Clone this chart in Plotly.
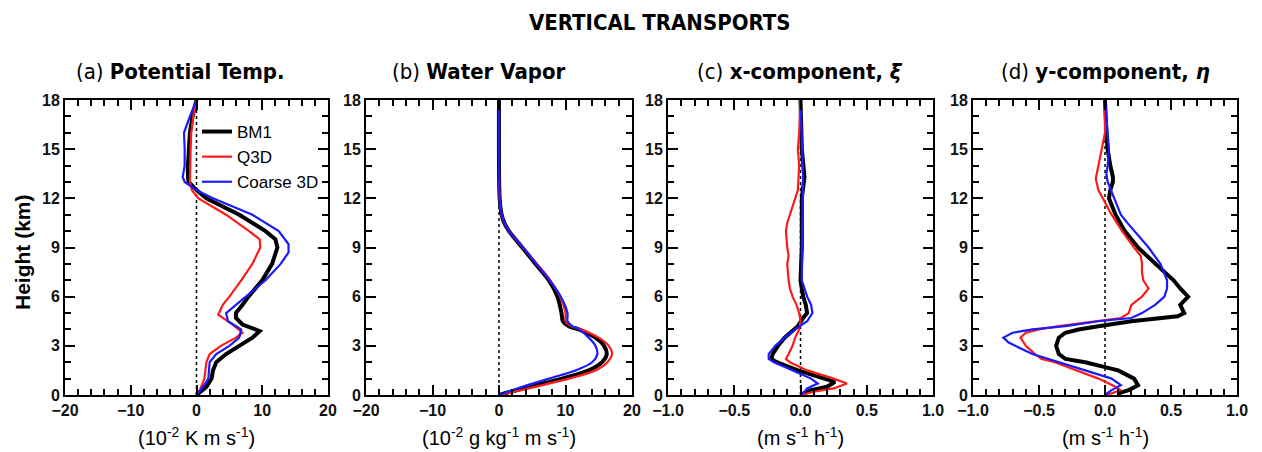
import plotly.graph_objects as go

# ---------------- data ----------------
series_names = ["BM1", "Q3D", "Coarse 3D"]
series_colors = ["#000000", "#ff1a1a", "#1a1aff"]

# (a) Potential temperature (10^-2 K m s^-1)
a_bm1_z = [0, 0.5, 1, 1.5, 2, 2.5, 3, 3.5, 3.9, 4.3, 4.7, 5, 5.5, 6, 7, 8, 9, 9.5, 10, 11, 12, 12.5, 13, 13.3, 14, 15, 16, 17, 18]
a_bm1_x = [0, 1.5, 2.3, 2.5, 3.0, 4.5, 6.5, 8.5, 9.6, 7.0, 6.0, 6.0, 7.0, 7.9, 10.0, 11.5, 12.3, 12.0, 10.5, 6.5, 1.5, 0, -1.2, -1.3, -1.3, -1.2, -1.0, -0.6, 0]
a_q3d_z = [0, 0.3, 1, 2, 2.5, 3, 3.5, 3.8, 4.3, 4.9, 5.5, 6, 7, 8, 9, 9.5, 10, 11, 12, 12.5, 13, 13.5, 15, 16, 17, 18]
a_q3d_x = [0, 0.5, 1.2, 1.5, 2.0, 3.7, 6.0, 7.0, 5.5, 3.3, 4.0, 5.0, 6.8, 8.5, 9.7, 9.6, 8.0, 4.5, 0.3, -0.7, -1.0, -1.0, -0.9, -0.8, -0.5, 0]
a_c3d_z = [0, 0.5, 1, 2, 2.5, 3, 3.5, 4, 4.5, 5, 5.5, 6, 7, 8, 8.7, 9.2, 10, 11, 12, 12.5, 13, 13.3, 14, 15, 16, 17, 18]
a_c3d_x = [0, 1.0, 1.8, 2.0, 3.0, 5.0, 6.5, 6.8, 4.8, 4.5, 6.0, 7.5, 10.5, 12.8, 14.0, 14.0, 12.5, 8.5, 2.5, 0, -1.8, -2.1, -1.8, -1.8, -1.9, -1.0, 0]

# (b) Water vapor (10^-2 g kg^-1 m s^-1)
b_bm1_z = [0, 0.5, 1, 1.5, 2, 2.5, 3, 3.5, 4, 4.2, 4.5, 5, 6, 7, 8, 9, 10, 10.5, 11, 12, 18]
b_bm1_x = [0, 4.5, 9.5, 13.5, 15.5, 16.2, 15.8, 14.5, 12.0, 10.5, 9.6, 9.4, 8.8, 7.5, 5.5, 3.5, 1.5, 0.8, 0.4, 0.1, 0]
b_q3d_z = [0, 0.5, 1, 1.5, 2, 2.5, 3, 3.5, 4, 4.2, 4.5, 5, 6, 7, 8, 9, 10, 10.5, 11, 12, 18]
b_q3d_x = [0, 5.5, 10.5, 14.5, 16.3, 17.0, 16.5, 15.0, 12.3, 10.8, 10.0, 10.0, 9.2, 7.7, 5.7, 3.6, 1.5, 0.8, 0.4, 0.1, 0]
b_c3d_z = [0, 0.5, 1, 1.5, 2, 2.5, 3, 3.5, 4, 4.2, 4.5, 5, 6, 7, 8, 9, 10, 10.5, 11, 12, 18]
b_c3d_x = [0, 3.5, 7.5, 11.5, 14.0, 14.8, 14.5, 13.5, 12.0, 11.0, 10.3, 10.3, 9.3, 7.6, 5.6, 3.6, 1.5, 0.8, 0.4, 0.1, 0]

# (c) x-component (m s^-1 h^-1)
c_bm1_z = [0, 0.3, 0.5, 0.8, 1, 1.2, 1.5, 2, 2.2, 2.5, 3, 3.5, 4.2, 4.7, 5, 5.5, 6, 7, 9, 12, 13.3, 15, 18]
c_bm1_x = [0, 0.08, 0.2, 0.26, 0.18, 0.10, -0.02, -0.18, -0.22, -0.21, -0.17, -0.12, -0.02, 0.02, 0.05, 0.04, 0.02, 0.0, 0.01, 0.01, 0.03, 0.01, 0]
c_q3d_z = [0, 0.2, 0.4, 0.7, 1, 1.5, 2, 2.2, 2.5, 3, 3.5, 4, 4.5, 5, 5.5, 6, 6.5, 7, 8, 8.5, 9, 10, 10.5, 11, 12, 12.5, 14, 15, 16, 18]
c_q3d_x = [0, 0.1, 0.25, 0.35, 0.25, 0.05, -0.08, -0.11, -0.09, -0.06, -0.04, -0.01, 0.0, -0.01, -0.03, -0.06, -0.08, -0.09, -0.1, -0.09, -0.1, -0.11, -0.1, -0.08, -0.04, -0.02, -0.01, -0.02, -0.01, 0]
c_c3d_z = [0, 0.2, 0.4, 0.7, 1, 1.5, 2, 2.2, 2.5, 3, 3.5, 4, 4.5, 5, 5.5, 6, 7, 9, 13.3, 18]
c_c3d_x = [0, 0.03, 0.05, 0.13, 0.08, -0.06, -0.2, -0.24, -0.24, -0.19, -0.12, -0.04, 0.05, 0.09, 0.08, 0.05, 0.01, 0.01, 0.02, 0]

# (d) y-component (m s^-1 h^-1)
d_bm1_z = [0, 0.1, 0.3, 0.6, 1, 1.5, 1.7, 2, 2.2, 2.5, 3, 3.5, 3.8, 4, 4.2, 4.5, 4.8, 5, 5.5, 6, 6.5, 7, 7.5, 8, 9, 10, 11, 12, 12.5, 13, 13.3, 14, 15, 16, 18]
d_bm1_x = [0.12, 0.1, 0.18, 0.25, 0.22, 0.1, 0.0, -0.15, -0.3, -0.35, -0.37, -0.35, -0.3, -0.2, -0.05, 0.2, 0.55, 0.6, 0.57, 0.63, 0.57, 0.52, 0.45, 0.38, 0.25, 0.15, 0.08, 0.03, 0.04, 0.06, 0.06, 0.04, 0.02, 0.01, 0]
d_q3d_z = [0, 0.1, 0.3, 0.5, 1, 1.5, 2, 2.2, 2.5, 3, 3.5, 3.8, 4, 4.2, 4.5, 4.7, 5, 5.5, 6, 6.5, 7, 7.5, 8, 8.5, 9, 10, 11, 12, 12.5, 13.2, 14, 15, 16, 18]
d_q3d_x = [0, 0.05, 0.12, 0.08, -0.05, -0.22, -0.38, -0.48, -0.53, -0.6, -0.64, -0.6, -0.5, -0.35, -0.05, 0.12, 0.18, 0.2, 0.28, 0.33, 0.29, 0.28, 0.28, 0.27, 0.22, 0.13, 0.05, -0.02, -0.05, -0.07, -0.05, -0.02, 0.0, 0]
d_c3d_z = [0, 0.3, 0.6, 1, 1.5, 2, 2.5, 3, 3.2, 3.5, 3.8, 4, 4.2, 4.5, 4.7, 5, 5.5, 6, 6.5, 7, 8, 9, 10, 10.5, 11, 12, 12.5, 13, 13.5, 14, 15, 18]
d_c3d_x = [0, 0.05, 0.12, 0.05, -0.15, -0.35, -0.55, -0.68, -0.73, -0.77, -0.7, -0.55, -0.3, -0.05, 0.2, 0.28, 0.38, 0.45, 0.47, 0.47, 0.42, 0.33, 0.22, 0.17, 0.12, 0.07, 0.05, 0.02, 0.01, 0.02, 0.03, 0]

panel_titles = ["(a) <b>Potential Temp.</b>", "(b) <b>Water Vapor</b>",
                "(c) <b>x-component, <i>ξ</i></b>", "(d) <b>y-component, <i>η</i></b>"]
x_titles = ["(10<sup>-2</sup> K m s<sup>-1</sup>)", "(10<sup>-2</sup> g kg<sup>-1</sup> m s<sup>-1</sup>)",
            "(m s<sup>-1</sup> h<sup>-1</sup>)", "(m s<sup>-1</sup> h<sup>-1</sup>)"]
main_title = "VERTICAL TRANSPORTS"
y_title = "Height (km)"
y_ticks = [0, 3, 6, 9, 12, 15, 18]
x_ticks_ab = [-20, -10, 0, 10, 20]
x_ticks_cd = [-1.0, -0.5, 0.0, 0.5, 1.0]

panels = [
    [(a_bm1_z, a_bm1_x), (a_q3d_z, a_q3d_x), (a_c3d_z, a_c3d_x)],
    [(b_bm1_z, b_bm1_x), (b_q3d_z, b_q3d_x), (b_c3d_z, b_c3d_x)],
    [(c_bm1_z, c_bm1_x), (c_q3d_z, c_q3d_x), (c_c3d_z, c_c3d_x)],
    [(d_bm1_z, d_bm1_x), (d_q3d_z, d_q3d_x), (d_c3d_z, d_c3d_x)],
]

# ---------------- layout geometry ----------------
OFF = 8  # page body margin
W, H = 1262 - OFF, 452 - OFF


def fx(px):
    return (px - OFF) / W


def fy(py):
    return 1 - (py - OFF) / H


px_x = [(65, 328), (366, 632), (668, 933), (973, 1237)]
px_top, px_bot = 100, 395
ydom = [fy(px_bot), fy(px_top)]

FONT = "Liberation Sans"
COND = "DejaVu Sans Condensed, Liberation Sans"
fig = go.Figure()

line_widths = [4, 2.2, 2.2]
for p, series in enumerate(panels):
    xa = "x" if p == 0 else f"x{p+1}"
    ya = "y" if p == 0 else f"y{p+1}"
    for s in [0, 1, 2]:
        z, v = series[s]
        fig.add_trace(go.Scatter(
            x=v, y=z, mode="lines", xaxis=xa, yaxis=ya,
            name=series_names[s], showlegend=(p == 0),
            line=dict(color=series_colors[s], width=line_widths[s],
                      shape="spline" if p == 1 else "linear", smoothing=0.8),
        ))

layout = dict(width=W, height=H, margin=dict(l=0, r=0, t=0, b=0, pad=0, autoexpand=False),
              plot_bgcolor="white", paper_bgcolor="white",
              font=dict(family=FONT, color="black"))


def fmt(t, dec):
    s = ("%.1f" % abs(t)) if dec else str(abs(int(t)))
    return "<b>" + ("−" + s if t < 0 else s) + "</b>"


for p in range(4):
    xk = "xaxis" if p == 0 else f"xaxis{p+1}"
    yk = "yaxis" if p == 0 else f"yaxis{p+1}"
    x0, x1 = px_x[p]
    if p < 2:
        rng, tv, mdt = [-20, 20], x_ticks_ab, 2
        tt = [fmt(t, False) for t in tv]
    else:
        rng, tv, mdt = [-1.0, 1.0], x_ticks_cd, 0.1
        tt = [fmt(t, True) for t in tv]
    layout[xk] = dict(domain=[fx(x0), fx(x1)], range=rng, anchor="y" if p == 0 else f"y{p+1}",
                      tickmode="array", tickvals=tv, ticktext=tt, automargin=False,
                      ticks="inside", ticklen=10, tickwidth=1.5, tickcolor="black",
                      showline=True, linewidth=2, linecolor="black", mirror="ticks",
                      showgrid=False, zeroline=False,
                      tickfont=dict(size=16, family=FONT, color="#111"),
                      minor=dict(ticks="inside", ticklen=6, tickwidth=1.5, tickcolor="black", dtick=mdt, showgrid=False),
                      fixedrange=True)
    layout[yk] = dict(domain=ydom, range=[0, 18], anchor="x" if p == 0 else f"x{p+1}",
                      tickmode="array", tickvals=y_ticks, ticktext=["<b>%d</b>" % t for t in y_ticks],
                      automargin=False,
                      ticks="inside", ticklen=10, tickwidth=1.5, tickcolor="black",
                      showline=True, linewidth=2, linecolor="black", mirror="ticks",
                      showgrid=False, zeroline=False,
                      tickfont=dict(size=16, family=FONT, color="#111"),
                      minor=dict(ticks="inside", ticklen=6, tickwidth=1.5, tickcolor="black", dtick=1, showgrid=False),
                      fixedrange=True)

layout["legend"] = dict(x=fx(197), y=fy(114), xanchor="left", yanchor="top",
                        bgcolor="rgba(0,0,0,0)", font=dict(size=17, family=FONT),
                        tracegroupgap=0, itemwidth=30)
layout["showlegend"] = True

shapes = []
for p in range(4):
    xa = "x" if p == 0 else f"x{p+1}"
    ya = "y" if p == 0 else f"y{p+1}"
    shapes.append(dict(type="line", xref=xa, yref=ya, x0=0, x1=0, y0=0, y1=18,
                       line=dict(color="black", width=1.5, dash="dot"), layer="below"))
layout["shapes"] = shapes

ann = [dict(text="<b>" + main_title + "</b>", x=fx(660), y=fy(22), xref="paper", yref="paper",
            showarrow=False, font=dict(size=22, family=COND), xanchor="center", yanchor="middle")]
title_cx = [180, 478, 800, 1105]
for p in range(4):
    ann.append(dict(text=panel_titles[p], x=fx(title_cx[p]), y=fy(72), xref="paper", yref="paper",
                    showarrow=False, font=dict(size=22, family=COND),
                    xanchor="center", yanchor="middle"))
    cx = (px_x[p][0] + px_x[p][1]) / 2
    ann.append(dict(text=x_titles[p], x=fx(cx), y=fy(436), xref="paper", yref="paper",
                    showarrow=False, font=dict(size=20, family=FONT), xanchor="center", yanchor="middle"))
ann.append(dict(text="<b>" + y_title + "</b>", x=fx(22), y=fy(252), xref="paper", yref="paper", textangle=-90,
                showarrow=False, font=dict(size=21, family=FONT), xanchor="center", yanchor="middle"))
layout["annotations"] = ann

fig.update_layout(**layout)
fig.write_html("out.html")
